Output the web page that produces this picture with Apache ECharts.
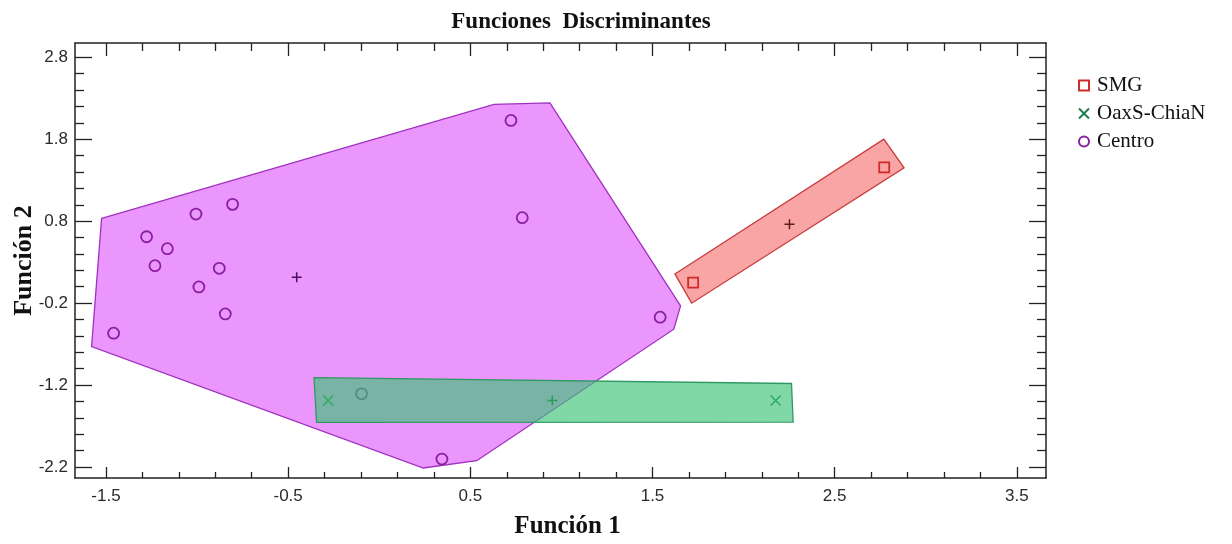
<!DOCTYPE html>
<html>
<head>
<meta charset="utf-8">
<script src="https://cdn.jsdelivr.net/npm/echarts@6/dist/echarts.min.js"></script>
<style>html,body{margin:0;padding:0;background:#fff;}#chart{width:1232px;height:544px;}</style>
</head>
<body>
<div id="chart"></div>
<script>
// ---- data ----
const groupNames = ['SMG', 'OaxS-ChiaN', 'Centro'];
const smgX = [1.723, 2.772];
const smgY = [0.05, 1.456];
const oaxX = [-0.28, 2.176];
const oaxY = [-1.388, -1.388];
const centroX = [-0.805, -1.006, -1.277, -1.163, -1.231, -0.878, -0.990, -0.845, -1.458, 0.723, 0.785, 1.542, -0.097, 0.344];
const centroY = [1.005, 0.887, 0.61, 0.464, 0.257, 0.225, -0.003, -0.332, -0.567, 2.029, 0.842, -0.372, -1.307, -2.103];
const centroidSMG = [2.252, 0.761];
const centroidOax = [0.95, -1.388];
const centroidCentro = [-0.453, 0.115];
const hullSMG = [[1.623, 0.156], [2.77, 1.801], [2.881, 1.451], [1.715, -0.201]];
const hullOax = [[-0.358, -1.108], [2.263, -1.181], [2.272, -1.652], [-0.344, -1.656]];
const hullCentro = [[-1.524, 0.834], [0.63, 2.224], [0.937, 2.243], [1.654, -0.234], [1.617, -0.518], [0.535, -2.123], [0.242, -2.212], [-1.579, -0.73]];
const xMajorTicks = [-1.5, -0.5, 0.5, 1.5, 2.5, 3.5];
const yMajorTicks = [-2.2, -1.2, -0.2, 0.8, 1.8, 2.8];

// ---- helpers ----
function zip(xs, ys) { return xs.map((x, i) => [x, ys[i]]); }
function minorTicks(majors, lo, hi, step) {
  const out = [];
  for (let v = majors[0] - 5 * step; v <= hi + 1e-9; v += step) {
    const r = Math.round(v * 100) / 100;
    if (r < lo || r > hi) continue;
    if (majors.some(m => Math.abs(m - r) < 1e-6)) continue;
    out.push(r);
  }
  return out;
}
const X_MIN = -1.67, X_MAX = 3.66, Y_MIN = -2.334, Y_MAX = 2.974;
const xMinor = minorTicks(xMajorTicks, X_MIN, X_MAX, 0.2);
const yMinor = minorTicks(yMajorTicks, Y_MIN, Y_MAX, 0.2);

const labelStyle = { fontFamily: 'Liberation Sans', fontSize: 17, color: '#2a2a2a' };
const lineStyle = { color: '#222', width: 1.5 };

function xAxisDef(pos, ticks, len, showLine, showLabel, extra) {
  return Object.assign({
    type: 'value', position: pos, min: X_MIN, max: X_MAX,
    axisLine: { show: showLine, onZero: false, lineStyle: lineStyle },
    axisTick: { show: true, inside: true, length: len, customValues: ticks, lineStyle: { color: '#222', width: 1.3 } },
    axisLabel: { show: showLabel, customValues: xMajorTicks, margin: 10, ...labelStyle },
    splitLine: { show: false }
  }, extra || {});
}
function yAxisDef(pos, ticks, len, showLine, showLabel, extra) {
  return Object.assign({
    type: 'value', position: pos, min: Y_MIN, max: Y_MAX,
    axisLine: { show: showLine, onZero: false, lineStyle: lineStyle },
    axisTick: { show: true, inside: true, length: len, customValues: ticks, lineStyle: { color: '#222', width: 1.3 } },
    axisLabel: { show: showLabel, customValues: yMajorTicks, margin: 7, ...labelStyle },
    splitLine: { show: false }
  }, extra || {});
}

function polygonSeries(hull, fill, stroke, z, name) {
  return {
    type: 'custom', name: name, z: z, silent: true,
    xAxisIndex: 0, yAxisIndex: 0,
    data: [hull[0]],
    renderItem: function (params, api) {
      const pts = hull.map(p => api.coord(p));
      return {
        type: 'polygon',
        shape: { points: pts },
        style: { fill: fill, stroke: stroke, lineWidth: 1.3 }
      };
    }
  };
}

const plusPath = 'path://M5,0L5,10M0,5L10,5';
const xPath = 'path://M0,0L10,10M10,0L0,10';

const option = {
  backgroundColor: '#fff',
  animation: false,
  title: {
    text: 'Funciones  Discriminantes', left: 576, textAlign: 'center', top: 6,
    textStyle: { fontFamily: 'Liberation Serif', fontWeight: 'bold', fontSize: 23, color: '#111' }
  },
  legend: {
    orient: 'vertical', left: 1073, top: 70, itemGap: 7, itemWidth: 10, itemHeight: 10,
    data: groupNames,
    textStyle: { fontFamily: 'Liberation Serif', fontSize: 21, color: '#111', padding: [0, 0, 0, 3] }
  },
  grid: { left: 75, right: 186, top: 43, bottom: 66, containLabel: false, outerBoundsMode: 'none' },
  xAxis: [
    xAxisDef('bottom', xMajorTicks, 11, true, true, {
      name: 'Función 1', nameLocation: 'middle', nameGap: 36, nameMoveOverlap: false,
      nameTextStyle: { fontFamily: 'Liberation Serif', fontWeight: 'bold', fontSize: 25, color: '#111', padding: [0, 0, 0, 14] }
    }),
    xAxisDef('bottom', xMinor, 6, false, false),
    xAxisDef('top', xMajorTicks, 13, true, false),
    xAxisDef('top', xMinor, 8, false, false)
  ],
  yAxis: [
    yAxisDef('left', yMajorTicks, 17, true, true, {
      name: 'Función 2', nameLocation: 'middle', nameGap: 38, nameRotate: 90, nameMoveOverlap: false,
      nameTextStyle: { fontFamily: 'Liberation Serif', fontWeight: 'bold', fontSize: 26, color: '#111' }
    }),
    yAxisDef('left', yMinor, 9, false, false),
    yAxisDef('right', yMajorTicks, 17, true, false),
    yAxisDef('right', yMinor, 9, false, false)
  ],
  series: [
    polygonSeries(hullCentro, 'rgb(234,150,252)', '#a030c0', 1, 'hullCentro'),
    polygonSeries(hullSMG, 'rgba(249,165,165,1)', '#c83a3a', 1, 'hullSMG'),
    {
      name: 'SMG', type: 'scatter', z: 3, symbol: 'rect', symbolSize: 10,
      itemStyle: { color: 'rgba(0,0,0,0)', borderColor: '#d02a2a', borderWidth: 1.8, opacity: 1 },
      data: zip(smgX, smgY)
    },
    {
      name: 'OaxS-ChiaN', type: 'scatter', z: 3, symbol: xPath, symbolSize: 10,
      itemStyle: { color: 'rgba(0,0,0,0)', borderColor: '#1f7a4c', borderWidth: 1.6, opacity: 1 },
      data: zip(oaxX, oaxY)
    },
    {
      name: 'Centro', type: 'scatter', z: 3, symbol: 'circle', symbolSize: 11,
      itemStyle: { color: 'rgba(0,0,0,0)', borderColor: '#8a1fa0', borderWidth: 1.8, opacity: 1 },
      data: zip(centroX, centroY)
    },
    {
      name: 'centroids', type: 'scatter', z: 3, symbol: plusPath, symbolSize: 10,
      itemStyle: { color: 'rgba(0,0,0,0)', borderColor: '#333', borderWidth: 1.5, opacity: 1 },
      data: [
        { value: centroidSMG, itemStyle: { borderColor: '#5a1a1a' } },
        { value: centroidOax, itemStyle: { borderColor: '#14502f' } },
        { value: centroidCentro, itemStyle: { borderColor: '#4a1060' } }
      ]
    },
    polygonSeries(hullOax, 'rgba(60,195,120,0.65)', '#2e9a62', 5, 'hullOax')
  ]
};

const chart = echarts.init(document.getElementById('chart'), null, { renderer: 'canvas' });
chart.setOption(option);
</script>
</body>
</html>
